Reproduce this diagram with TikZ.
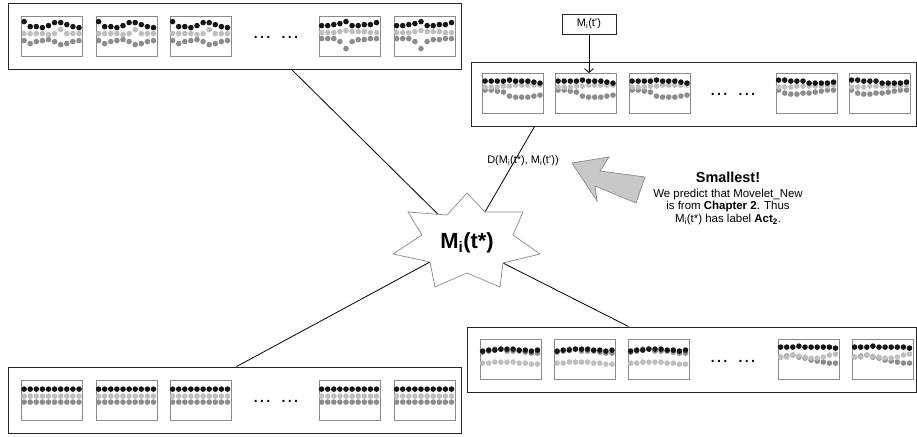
\documentclass[tikz,border=0pt]{standalone}
\usepackage{fontspec}
\setmainfont{Liberation Sans}
\usetikzlibrary{arrows.meta,calc}

\definecolor{dotblack}{HTML}{151515}
\definecolor{dotlight}{HTML}{BEBEBE}
\definecolor{dotmid}{HTML}{8C8C8C}
\definecolor{framegray}{HTML}{8A8A8A}
\definecolor{arrowfill}{HTML}{C8C8C8}

\tikzset{
  panel/.style={draw=black!85, line width=0.9bp, inner sep=0pt},
  thumb/.style={draw=framegray, line width=0.8bp, minimum width=61bp, minimum height=40bp, inner sep=0pt},
  link/.style={black, line width=0.8bp},
  ellip/.style={font=\fontsize{20}{20}\selectfont},
  label/.style={font=\fontsize{11}{13}\selectfont},
}

% one movelet: node, black row, light row, mid row (offsets from the top)
\newcommand{\movelet}[4]{%
  \foreach \v [count=\i from 0] in #4 {\fill[dotmid] ($(#1.north west)+({3+6.1*\i},\v)$) circle (2.8);}
  \foreach \v [count=\i from 0] in #3 {\fill[dotlight] ($(#1.north west)+({3+6.1*\i},\v)$) circle (2.8);}
  \foreach \v [count=\i from 0] in #2 {\fill[dotblack] ($(#1.north west)+({3+6.1*\i},\v)$) circle (2.8);}
}

% row patterns
\def\aBk{6,11,11,12,10,7,7,9,11,12}
\def\aLt{18,18,18,18,19,18,14,18,18,18}
\def\aMd{25,28,26,25,24,26,29,28,26,25}
\def\aaBk{10,10,9,8,6,10,10,9,9,7}
\def\aaLt{17,17,17,16,15,16,16,16,17,17}
\def\aaMd{23,23,23,26,33,26,24,24,23,23}
\def\bBk{8,8,8,8,7,8,8,8,9,10}
\def\bLt{14,14,14,13,13,12,12,12,12,12}
\def\bMd{17,17,18,19,23,24,24,24,23,22}
\def\bbBk{7,7,8,8,8,10,10,10,10,9}
\def\bbLt{14,14,14,13,13,13,13,13,13,12}
\def\bbMd{17,20,21,21,20,20,19,18,17,17}
\def\cBk{9,9,9,9,9,9,9,9,9,9}
\def\cLt{16,16,16,16,16,16,16,16,16,16}
\def\cMd{22,22,22,22,22,22,22,22,22,22}
\def\dBk{12,11,11,10,10,10,11,11,12,11}
\def\dLt{24,24,23,23,23,23,24,24,25,25}
\def\dMd{13,12,10,10,12,12,12,13,14,14}
\def\ddBk{8,8,8,7,8,8,8,8,8,9}
\def\ddLt{18,18,16,17,18,19,19,18,16,15}
\def\ddMd{18,17,16,18,19,21,22,23,24,24}

\begin{document}
\begin{tikzpicture}[x=1bp,y=-1bp]
\useasboundingbox (0,0) rectangle (917,437);

% panels
\node[panel, minimum width=453bp, minimum height=66bp] (pA) at (234.5,36) {};
\node[panel, minimum width=445bp, minimum height=64bp] (pB) at (693.5,94) {};
\node[panel, minimum width=453bp, minimum height=66bp] (pC) at (234.5,400) {};
\node[panel, minimum width=449bp, minimum height=65bp] (pD) at (691.5,359.5) {};

% movelets
\foreach \n/\x in {1/52,2/126.5,3/200.5,4/349.5,5/424.5}{
  \node[thumb] (a\n) at (\x,36) {};
  \node[thumb] (c\n) at (\x,400.5) {};
}
\foreach \n/\x in {1/513,2/586,3/660,4/806.5,5/879.5}
  \node[thumb] (b\n) at (\x,93.5) {};
\foreach \n/\x in {1/510.5,2/585,3/658.5,4/808.5,5/882.5}
  \node[thumb] (d\n) at (\x,359.5) {};

\foreach \n in {1,2,3}{
  \movelet{a\n}{\aBk}{\aLt}{\aMd}
  \movelet{b\n}{\bBk}{\bLt}{\bMd}
  \movelet{d\n}{\dBk}{\dLt}{\dMd}
}
\foreach \n in {4,5}{
  \movelet{a\n}{\aaBk}{\aaLt}{\aaMd}
  \movelet{b\n}{\bbBk}{\bbLt}{\bbMd}
  \movelet{d\n}{\ddBk}{\ddLt}{\ddMd}
}
\foreach \n in {1,...,5}{
  \movelet{c\n}{\cBk}{\cLt}{\cMd}
}

\node[ellip] (ga) at (276,37) {\ldots\hspace{8bp}\ldots};
\node[ellip] (gb) at (733,94) {\ldots\hspace{8bp}\ldots};
\node[ellip] (gc) at (276,401) {\ldots\hspace{8bp}\ldots};
\node[ellip] (gd) at (733,361) {\ldots\hspace{8bp}\ldots};

% query
\node[draw=black!85, line width=0.8bp, minimum width=54bp, minimum height=20bp, label] (mt) at (589,24) {M\textsubscript{i}(t')};
\draw[link, -{Straight Barb[length=4bp,width=9bp]}] (mt.south) -- (mt.south |- b2.north);

% star
\foreach \k/\x/\y in {1/467/193,2/485/212,3/523/212,4/513/235,5/540/254,6/503/263,7/500/287,
                      8/467/273,9/435/287,10/430/262,11/393/254,12/422/235,13/408/212,14/447/215}
  \coordinate (s\k) at (\x,\y);

\draw[link] ([xshift=284bp]pA.south west) -- ($(s13)!0.77!(s14)$);
\draw[link] ([xshift=64bp]pB.south west) -- (s2);
\draw[link] ([xshift=229bp]pC.north west) -- (s10);
\draw[link] ([xshift=162bp]pD.north west) -- (s6);

\filldraw[fill=white, draw=framegray, line width=0.7bp] (s1) \foreach \k in {2,...,14}{ -- (s\k)} -- cycle;
\node[font=\fontsize{22}{24}\selectfont\bfseries] (star) at (467,243) {M\textsubscript{i}(t*)};

\node[label] (dist) at (523,161) {D(M\textsubscript{i}(t*), M\textsubscript{i}(t'))};

% big arrow
\filldraw[fill=arrowfill, draw=framegray, line width=0.7bp]
  (572,163) -- (609,157) -- (600,171) -- (645,177) -- (636,203) -- (595,186) -- (597,201) -- cycle;

\node[font=\fontsize{14.5}{16}\selectfont\bfseries] (hint) at (728,177) {Smallest!};
\node[align=center, font=\fontsize{11.5}{13}\selectfont] (note) at (728,207)
  {We predict that Movelet\_New\\ is from \textbf{Chapter 2}. Thus\\ M\textsubscript{i}(t*) has label \textbf{Act\textsubscript{2}}.};

\end{tikzpicture}
\end{document}
